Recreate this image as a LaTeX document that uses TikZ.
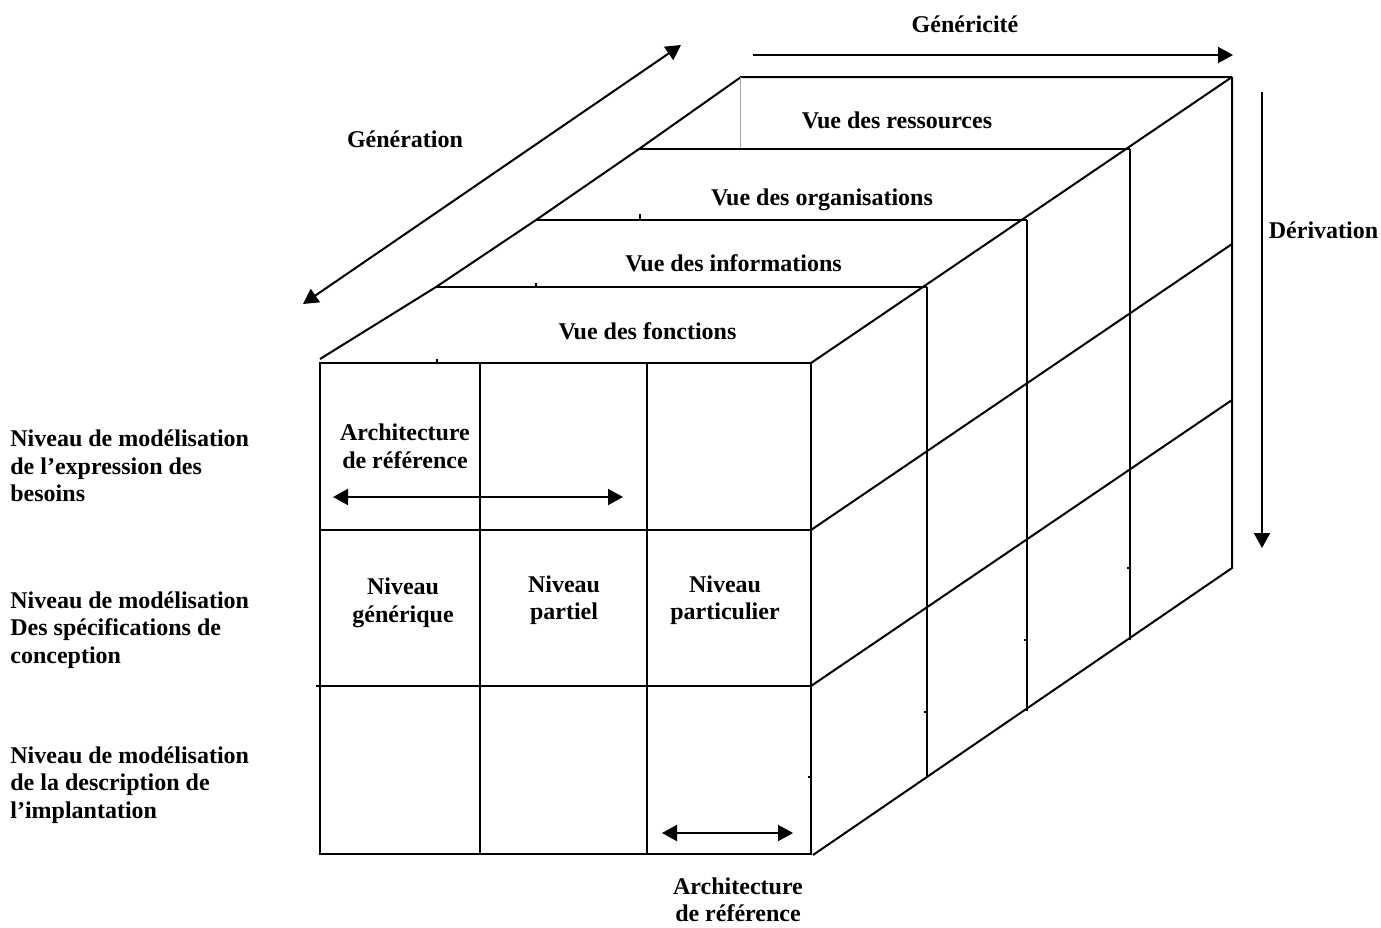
\documentclass[tikz,border=0pt]{standalone}
\usepackage{fontspec}
\setmainfont{Liberation Serif}
\usetikzlibrary{arrows.meta}
\begin{document}
\begin{tikzpicture}[x=0.5pt,y=-0.5pt,
  edge/.style={line width=1pt},
  faint/.style={line width=0.5pt,black!35},
  arr/.style={line width=1pt,-{Triangle[length=7.5pt,width=8pt]}},
  darr/.style={line width=1pt,{Triangle[length=7.5pt,width=8pt]}-{Triangle[length=7.5pt,width=8pt]}},
  lbl/.style={font=\fontsize{12}{13.75}\selectfont\bfseries,inner sep=0pt,align=center},
  side/.style={font=\fontsize{12}{13.75}\selectfont\bfseries,inner sep=0pt,align=left,anchor=west}]
\useasboundingbox (0,0) rectangle (1381,927);

% top face: left and right corners of each view layer
\coordinate (L1) at (436,287);
\coordinate (L2) at (536,220);
\coordinate (L3) at (639,149);
\coordinate (L4) at (741,77);
\coordinate (R0) at (811,363);
\coordinate (R1) at (927,287);
\coordinate (R2) at (1027,220);
\coordinate (R3) at (1130,149);
\coordinate (R4) at (1232,77);
% right face: bottom ends of the layer edges
\coordinate (B0) at (813,855);
\coordinate (B1) at (927,778);
\coordinate (B2) at (1027,711);
\coordinate (B3) at (1130,640);
\coordinate (B4) at (1232,568);

% top face
\draw[edge] (320,359) -- (L1) -- (L2) -- (L3) -- (L4) -- (R4);
\draw[edge] (L1) -- (R1) (L2) -- (R2) (L3) -- (R3);
\draw[edge] (R0) -- (R4);
\draw[faint] (740,77) -- (740,148);
\draw[edge] (437,359) -- (437,363) (536,283) -- (536,287) (640,214) -- (640,220);

% right face
\draw[edge] (R4) -- (B4) -- (B0);
\draw[edge] (R1) -- (B1) (R2) -- (B2) (R3) -- (B3);
\draw[edge] (811,530) -- (1232,244) (811,686) -- (1232,400);
\draw[edge] (808,777) -- (811,777) (924,712) -- (927,712)
            (1024,640) -- (1027,640) (1127,568) -- (1130,568);

% front face grid
\draw[edge] (320,363) rectangle (811,854);
\draw[edge] (480,363) -- (480,854) (647,363) -- (647,854);
\draw[edge] (320,530) -- (811,530) (316,686) -- (811,686);

% axis arrows
\coordinate (genA) at (303,304);
\coordinate (genB) at (681,45);
\coordinate (gcA) at (753,55);
\coordinate (gcB) at (1233,55);
\coordinate (dvA) at (1262,92);
\coordinate (dvB) at (1262,548);
\draw[darr] (genA) -- (genB);
\draw[arr] (gcA) -- (gcB);
\draw[arr] (dvA) -- (dvB);

% reference architecture arrows
\coordinate (arA) at (333,497);
\coordinate (arB) at (623,497);
\coordinate (abA) at (662,833);
\coordinate (abB) at (793,833);
\draw[darr] (arA) -- (arB);
\draw[darr] (abA) -- (abB);

% axis labels
\node[lbl] (tGenericite) at (965,24) {Généricité};
\node[lbl] (tGeneration) at (405,139.5) {Génération};
\node[lbl] (tDerivation) at (1323.5,230) {Dérivation};

% view labels
\node[lbl] (vRes) at (897,120) {Vue des ressources};
\node[lbl] (vOrg) at (822,200) {Vue des organisations};
\node[lbl] (vInf) at (733.5,263) {Vue des informations};
\node[lbl] (vFon) at (647.5,331.5) {Vue des fonctions};

% cell labels
\node[lbl] (cArch) at (405,446.5) {Architecture\\de référence};
\node[lbl] (cGen) at (403,603) {Niveau\\générique};
\node[lbl] (cPar) at (564,600) {Niveau\\partiel};
\node[lbl] (cPart) at (725,600) {Niveau\\particulier};
\node[lbl] (bArch) at (738,900) {Architecture\\de référence};

% level labels
\node[side] (lv1) at (10,466) {Niveau de modélisation\\de l’expression des\\besoins};
\node[side] (lv2) at (10,630) {Niveau de modélisation\\Des spécifications de\\conception};
\node[side] (lv3) at (10,785) {Niveau de modélisation\\de la description de\\l’implantation};
\end{tikzpicture}
\end{document}
